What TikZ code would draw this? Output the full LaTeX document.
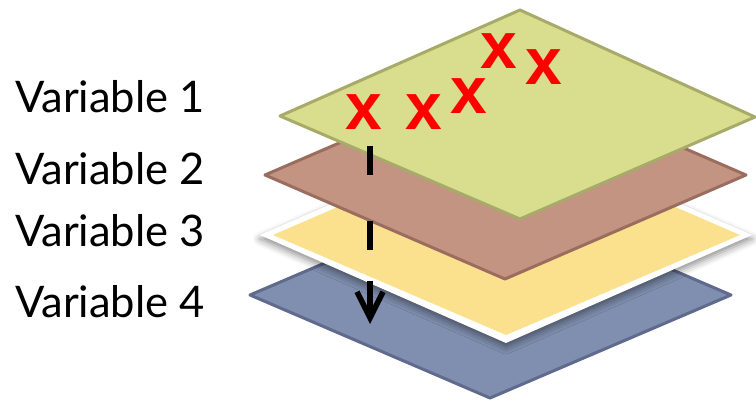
\documentclass[tikz,border=0pt]{standalone}
\usepackage{fontspec}
\setmainfont{Lato}
\newfontfamily\xfont{Liberation Sans}
\usetikzlibrary{arrows.meta,shadows.blur}
\definecolor{gfill}{HTML}{D8DE8E}
\definecolor{gline}{HTML}{A7AA68}
\definecolor{bfill}{HTML}{C49483}
\definecolor{bline}{HTML}{9B6D5E}
\definecolor{yfill}{HTML}{FBE08D}
\definecolor{ufill}{HTML}{808FAF}
\definecolor{uline}{HTML}{5F6A8C}
\definecolor{xred}{HTML}{FF0000}
\tikzset{
  layer/.style={line width=3pt, line join=round},
  lbl/.style={anchor=base west, inner sep=0pt, font=\fontsize{43.5}{50}\selectfont},
  cross/.style={anchor=center, inner sep=0pt, text=xred, font=\xfont\bfseries\fontsize{66}{70}\selectfont},
  flow/.style={line width=5.5pt, dash pattern=on 29pt off 46pt on 29pt off 31pt on 60pt, -{Straight Barb[length=26pt,width=26pt]}}
}
\begin{document}
\begin{tikzpicture}[x=1pt,y=-1pt]
\useasboundingbox (0,0) rectangle (756,401);
% blue layer
\draw[layer, fill=ufill, draw=uline] (491,192) -- (731,295) -- (490,398) -- (250,295) -- cycle;
% yellow layer with white border and shadow
\fill[white, blur shadow={shadow xshift=0pt, shadow yshift=-4pt, shadow blur radius=7pt, shadow opacity=45}]
  (506,128) -- (752,235) -- (506,343) -- (260,235) -- cycle;
\fill[yfill] (506,134) -- (740,235) -- (506,335) -- (273,235) -- cycle;
% brown layer
\draw[layer, fill=bfill, draw=bline] (506,71) -- (746,175) -- (505,279) -- (265,175) -- cycle;
% green layer
\draw[layer, fill=gfill, draw=gline] (520,10) -- (755,117) -- (520,219) -- (280,116) -- cycle;
% crosses
\node[cross] (x1) at (364,112) {x};
\node[cross] (x2) at (424,112) {x};
\node[cross] (x3) at (469,96) {x};
\node[cross] (x4) at (499,51) {x};
\node[cross] (x5) at (544,67) {x};
% arrow
\coordinate (a1) at (370,146);
\coordinate (a2) at (370,324);
\draw[flow] (a1) -- (a2);
% labels
\node[lbl] (v1) at (15,113) {Variable 1};
\node[lbl] (v2) at (15,185) {Variable 2};
\node[lbl] (v3) at (15,247) {Variable 3};
\node[lbl] (v4) at (15,317) {Variable 4};
\end{tikzpicture}
\end{document}
